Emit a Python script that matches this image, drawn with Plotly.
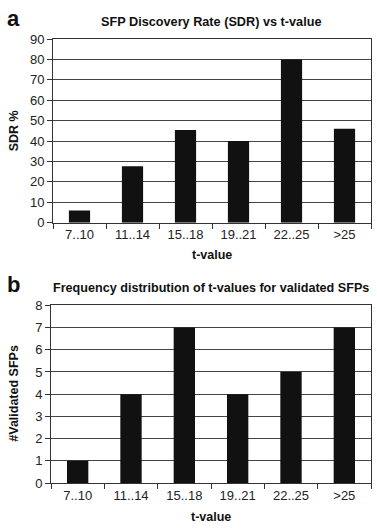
import plotly.graph_objects as go

categories = ["7..10", "11..14", "15..18", "19..21", "22..25", ">25"]
sdr_values = [6, 27.7, 45.4, 40, 80, 46]
validated_counts = [1, 4, 7, 4, 5, 7]
sdr_ticks = [0, 10, 20, 30, 40, 50, 60, 70, 80, 90]
count_ticks = [0, 1, 2, 3, 4, 5, 6, 7, 8]

W, H = 377, 529
FONT = "Liberation Sans, Arial, sans-serif"

fig = go.Figure()
fig.add_trace(go.Bar(x=categories, y=sdr_values, marker_color="#111111",
                     marker_line_width=0, xaxis="x", yaxis="y"))
fig.add_trace(go.Bar(x=categories, y=validated_counts, marker_color="#111111",
                     marker_line_width=0, xaxis="x2", yaxis="y2"))

def px_x(v):
    return v / W

def px_y(v):
    return 1 - v / H

axis_common = dict(showline=True, linecolor="#333333", linewidth=1, mirror=True,
                   tickfont=dict(family=FONT, size=13, color="#222222"),
                   ticks="outside", ticklen=5, tickcolor="#333333")

fig.update_layout(
    width=W, height=H,
    margin=dict(l=0, r=0, t=0, b=0),
    paper_bgcolor="white", plot_bgcolor="white",
    showlegend=False,
    bargap=0.6,
    font=dict(family=FONT, color="#222222"),
    xaxis=dict(domain=[px_x(53), px_x(371)], anchor="y", type="category",
               tickson="boundaries", showgrid=False, **axis_common),
    yaxis=dict(domain=[px_y(222), px_y(33)], anchor="x", range=[0, 90],
               tickvals=sdr_ticks, showgrid=True, gridcolor="#444444", gridwidth=1,
               **axis_common),
    xaxis2=dict(domain=[px_x(51), px_x(371)], anchor="y2", type="category",
                tickson="boundaries", showgrid=False, **axis_common),
    yaxis2=dict(domain=[px_y(490), px_y(307)], anchor="x2", range=[0, 8],
                tickvals=count_ticks, showgrid=True, gridcolor="#444444", gridwidth=1,
                **axis_common),
)

def ann(text, x, y, size, bold=True, angle=0):
    fig.add_annotation(text=f"<b>{text}</b>" if bold else text,
                       x=px_x(x), y=px_y(y), xref="paper", yref="paper",
                       showarrow=False, textangle=angle,
                       font=dict(family=FONT, size=size, color="#111111"),
                       xanchor="center", yanchor="middle")

ann("a", 13, 12, 22)
ann("b", 13, 286, 22)
ann("SFP Discovery Rate (SDR) vs t-value", 211, 15, 12.7)
ann("Frequency distribution of t-values for validated SFPs", 211, 289, 12.6)
ann("t-value", 212, 255, 12.5)
ann("t-value", 211, 525, 12.5)
ann("SDR %", 14, 128, 12.5, angle=-90)
ann("#Validated SFPs", 14, 398, 12.5, angle=-90)

fig.write_html("out.html")
